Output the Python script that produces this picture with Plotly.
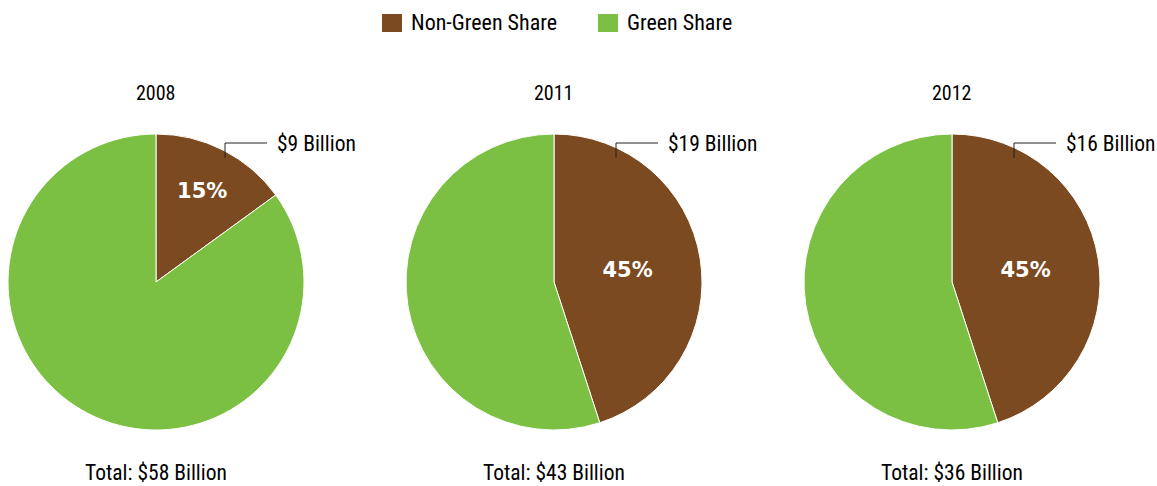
import plotly.graph_objects as go

years = ['2008', '2011', '2012']
labels = ['Non-Green Share', 'Green Share']
non_green_pct = [15, 45, 45]
green_pct = [85, 55, 55]
non_green_billion = [9, 19, 16]
totals_billion = [58, 43, 36]

BROWN = '#7b4a20'
GREEN = '#7bc043'
W, H = 1157, 486
NARROW = 'Roboto Condensed, DejaVu Sans Condensed, Liberation Sans Narrow, sans-serif'

# pixel layout of each pie (center x), shared center y and radius
centers_x = [156, 554, 952]
callout_dx = [69, 62, 62]
cy, r = 282, 148


def px(x):
    return x / W


def py(y):
    return 1 - y / H


fig = go.Figure()
for i, yr in enumerate(years):
    cx = centers_x[i]
    fig.add_trace(go.Pie(
        labels=labels,
        values=[non_green_pct[i], green_pct[i]],
        sort=False,
        direction='clockwise',
        rotation=0,
        marker=dict(colors=[BROWN, GREEN], line=dict(color='white', width=1)),
        texttemplate=['%{percent:.0%}', ''],
        textposition='inside',
        insidetextorientation='horizontal',
        insidetextfont=dict(family='DejaVu Sans', size=21, color='white', weight='bold'),
        domain=dict(x=[px(cx - r), px(cx + r)], y=[py(cy + r), py(cy - r)]),
        hoverinfo='label+percent',
        showlegend=False,
    ))
    # year title
    fig.add_annotation(x=px(cx), y=py(93), xref='paper', yref='paper',
                       xanchor='center', yanchor='middle',
                       text=yr, showarrow=False,
                       font=dict(family=NARROW, size=20, color='black'))
    # total
    fig.add_annotation(x=px(cx), y=py(472), xref='paper', yref='paper',
                       xanchor='center', yanchor='middle', borderpad=0,
                       text=f'Total: ${totals_billion[i]} Billion', showarrow=False,
                       font=dict(family=NARROW, size=21.5, color='black'))
    # callout elbow line and label
    lx = cx + callout_dx[i]
    fig.add_shape(type='path', xref='paper', yref='paper',
                  path=f'M {px(lx)} {py(158)} L {px(lx)} {py(143)} L {px(lx + 42)} {py(143)}',
                  line=dict(color='#222222', width=1))
    fig.add_annotation(x=px(lx + 50), y=py(143), xref='paper', yref='paper',
                       xanchor='left', yanchor='middle',
                       text=f'${non_green_billion[i]} Billion', showarrow=False,
                       font=dict(family=NARROW, size=21.5, color='black'))

# legend drawn by hand (larger swatches than plotly's pie legend)
legend_x = [382, 598]
for lab, col, x0 in zip(labels, [BROWN, GREEN], legend_x):
    fig.add_shape(type='rect', xref='paper', yref='paper',
                  x0=px(x0), x1=px(x0 + 20), y0=py(32), y1=py(14),
                  fillcolor=col, line=dict(width=0))
    fig.add_annotation(x=px(x0 + 27), y=py(23), xref='paper', yref='paper',
                       xanchor='left', yanchor='middle', text=lab, showarrow=False,
                       font=dict(family=NARROW, size=22, color='black'))

fig.update_layout(
    width=W, height=H,
    margin=dict(l=0, r=0, t=0, b=0),
    paper_bgcolor='white',
    plot_bgcolor='white',
    showlegend=False,
)

fig.write_html("out.html", config={'displayModeBar': False},
               post_script="document.body.style.margin='0';")
